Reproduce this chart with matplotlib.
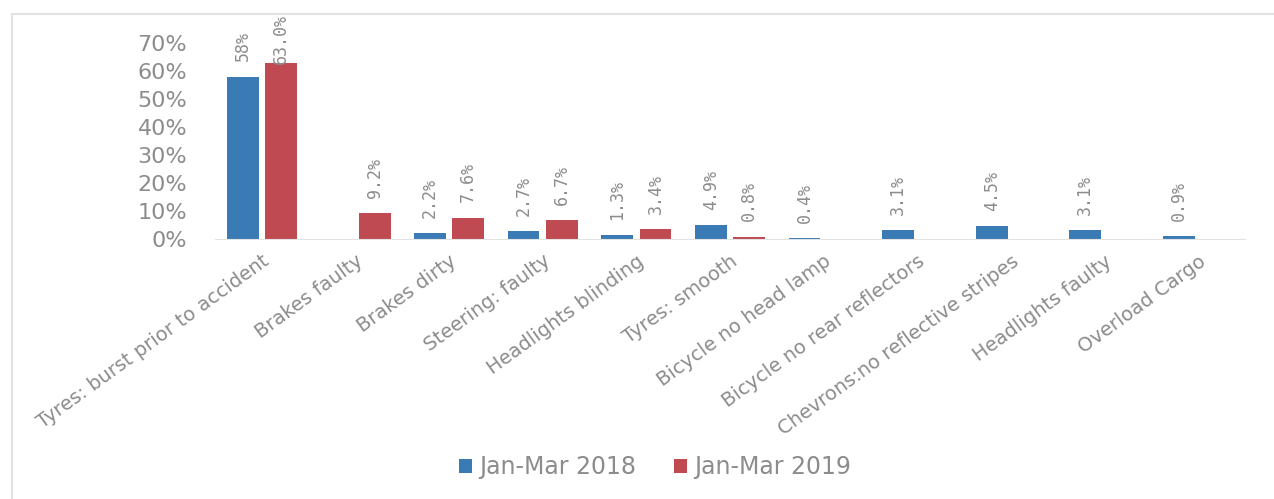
import numpy as np
import matplotlib
matplotlib.use('Agg')
import matplotlib.pyplot as plt
from matplotlib.lines import Line2D
from matplotlib.transforms import blended_transform_factory

categories = ['Tyres: burst prior to accident', 'Brakes faulty', 'Brakes dirty',
              'Steering: faulty', 'Headlights blinding', 'Tyres: smooth',
              'Bicycle no head lamp', 'Bicycle no rear reflectors',
              'Chevrons:no reflective stripes', 'Headlights faulty', 'Overload Cargo']
jan_mar_2018 = [0.58, None, 0.022, 0.027, 0.013, 0.049, 0.004, 0.031, 0.045, 0.031, 0.009]
jan_mar_2019 = [0.630, 0.092, 0.076, 0.067, 0.034, 0.008, None, None, None, None, None]
labels_2018 = ['58%', '', '2.2%', '2.7%', '1.3%', '4.9%', '0.4%', '3.1%', '4.5%', '3.1%', '0.9%']
labels_2019 = ['63.0%', '9.2%', '7.6%', '6.7%', '3.4%', '0.8%', '', '', '', '', '']
series_names = ['Jan-Mar 2018', 'Jan-Mar 2019']

blue = '#3a7bb6'
red = '#c04a52'
grey = '#8c8c8c'

fig = plt.figure(figsize=(12.74, 4.99), dpi=100)
ax = fig.add_axes([215/1274, 260/499, 1030/1274, 196/499])

x = np.arange(len(categories))
w = 0.34
off = 0.205
v18 = np.array([np.nan if v is None else v for v in jan_mar_2018])
v19 = np.array([np.nan if v is None else v for v in jan_mar_2019])
b1 = ax.bar(x - off, np.nan_to_num(v18), w, color=blue, label=series_names[0])
b2 = ax.bar(x + off, np.nan_to_num(v19), w, color=red, label=series_names[1])

ax.set_xlim(-0.5, len(categories) - 0.5)
ax.set_ylim(0, 0.70)
ax.set_yticks(np.arange(0, 0.71, 0.1))
ax.set_yticklabels([f'{int(round(t*100))}%' for t in np.arange(0, 0.71, 0.1)],
                   fontsize=16, color=grey)
ax.tick_params(axis='y', length=0, pad=20)
ax.set_xticks(x)
ax.set_xticklabels(categories, rotation=36, ha='right', rotation_mode='anchor',
                   fontsize=14, color=grey)
ax.tick_params(axis='x', length=0, pad=9)
for s in ['top', 'right', 'left']:
    ax.spines[s].set_visible(False)
ax.spines['bottom'].set_color('#e3e3e3')

trans = blended_transform_factory(ax.transData, fig.transFigure)
for xs, vals, labs in [(x - off, v18, labels_2018), (x + off, v19, labels_2019)]:
    for xi, v, lab in zip(xs, vals, labs):
        if not lab:
            continue
        if v > 0.6:
            ax.text(xi, 1 - 14/499, lab, transform=trans, rotation=90, ha='center',
                    va='top', fontsize=12, color=grey, family='DejaVu Sans Mono')
        else:
            ax.annotate(lab, (xi, v), xytext=(0, 11), textcoords='offset points',
                        rotation=90, ha='center', va='bottom', fontsize=12,
                        color=grey, family='DejaVu Sans Mono')

leg = fig.legend(handles=[b1, b2], loc='center', bbox_to_anchor=(655/1274, 1 - 467/499),
                 ncol=2, frameon=False, fontsize=17, handlelength=0.55, handleheight=0.55,
                 handletextpad=0.3, columnspacing=1.6, labelcolor=grey)

# chart border
fig.add_artist(Line2D([12/1274, 1], [1 - 14/499, 1 - 14/499], transform=fig.transFigure,
                      color='#e2e2e2', lw=1.5))
fig.add_artist(Line2D([12/1274, 12/1274], [0, 1 - 14/499], transform=fig.transFigure,
                      color='#e2e2e2', lw=1.5))

fig.savefig('out.png', dpi=100)
